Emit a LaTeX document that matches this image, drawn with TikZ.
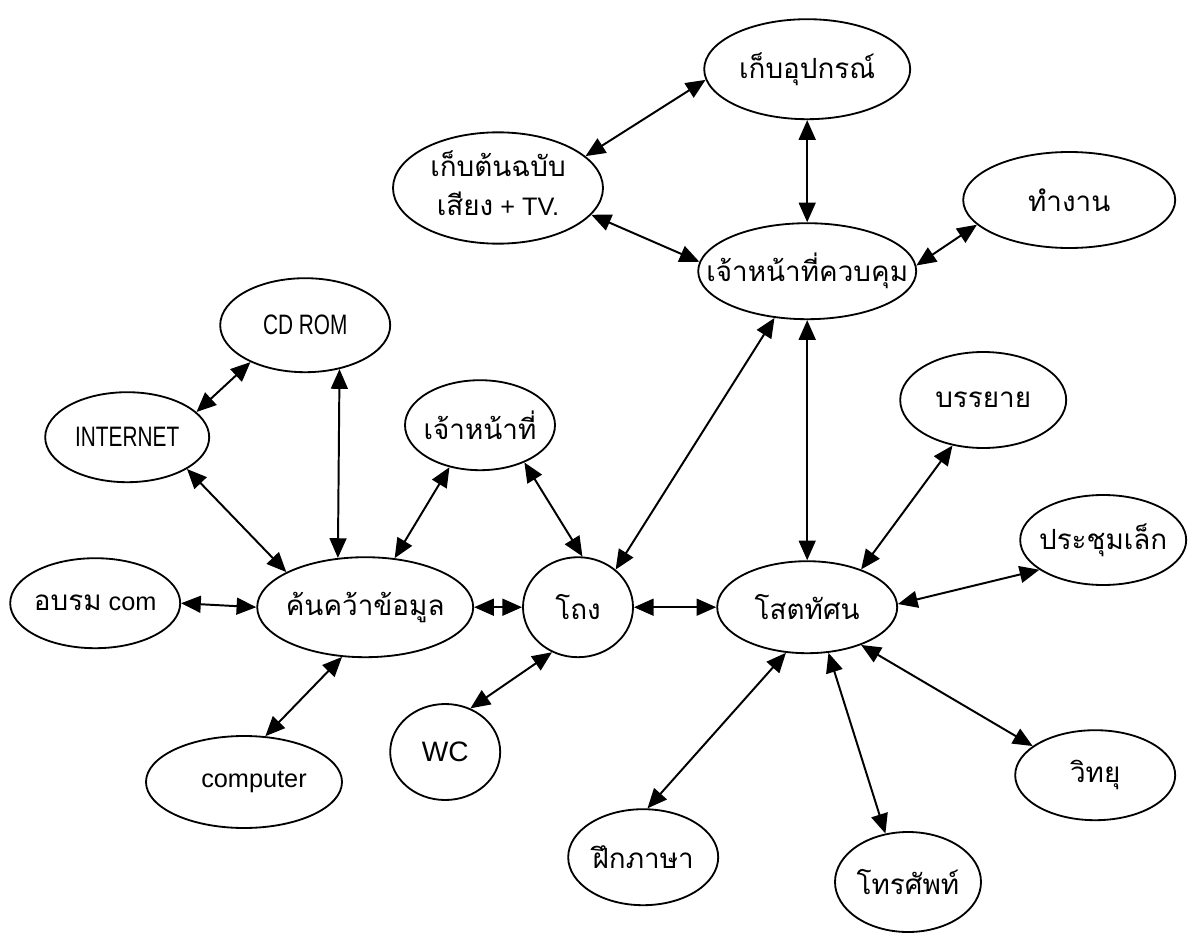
\documentclass[tikz,border=0pt]{standalone}
\usepackage{fontspec}
\setmainfont{Liberation Sans}
\newfontfamily\narrow[FakeStretch=0.74]{Liberation Sans}
\newfontfamily\thai[Script=Thai,Scale=1.1]{Loma}
\usetikzlibrary{shapes.geometric,arrows.meta,positioning}

\newcommand{\nm}[1]{\makebox[0pt]{#1}}
\newcommand{\bigtxt}{\fontsize{20}{28}\selectfont}

\tikzset{
	spot/.style 2 args={ellipse, draw, line width=1.3pt, inner sep=0pt,
		minimum width=#1, minimum height=#2,
		font=\fontsize{18}{28}\selectfont},
	link/.style={<->, line width=1.4pt},
}

\begin{document}
\begin{tikzpicture}[>={Triangle[length=14pt,width=12pt]}, on grid]
	\useasboundingbox (0,0) rectangle (29.75,-23.35);
	\node [spot={2.75cm}{2.5cm}] (thong) at (14.45,-15.18) {\nm{\thai โถง}};
	\node [spot={4.5cm}{2.3cm}, right=5.73cm of thong] (sot) {\nm{\thai โสตทัศน}};
	\node [spot={5.45cm}{2.4cm}, above=8.4cm of sot] (jkk) {\nm{\thai เจ้าหน้าที่ควบคุม}};
	\node [spot={5.15cm}{2.5cm}, above=5.05cm of jkk] (kepU) {\nm{\thai เก็บอุปกรณ์}};
	\node [spot={5.25cm}{2.75cm}] (kepT) at (12.45,-4.70)
		{\nm{\begin{tabular}{@{}c@{}}\thai เก็บต้นฉบับ\\{\thai เสียง} + TV.\end{tabular}}};
	\node [spot={5.3cm}{2.4cm}] (tam) at (26.73,-5.00) {\nm{\thai ทำงาน}};
	\node [spot={4.25cm}{2.35cm}] (cd) at (7.63,-8.13) {\nm{\bigtxt\narrow CD ROM}};
	\node [spot={4.1cm}{2.25cm}] (inet) at (3.18,-10.93) {\nm{\bigtxt\narrow INTERNET}};
	\node [spot={3.75cm}{2.25cm}] (jnh) at (12.00,-10.63) {\nm{\thai เจ้าหน้าที่}};
	\node [spot={4.15cm}{2.4cm}] (ban) at (24.58,-10.00) {\nm{\thai บรรยาย}};
	\node [spot={4.15cm}{2.25cm}] (pra) at (27.58,-13.50) {\nm{\thai ประชุมเล็ก}};
	\node [spot={4.25cm}{2.25cm}] (obr) at (2.38,-15.08) {\nm{{\thai อบรม} com}};
	\node [spot={5.4cm}{2.5cm}] (khk) at (9.13,-15.18) {\nm{\thai ค้นคว้าข้อมูล}};
	\node [spot={2.75cm}{2.4cm}] (wc) at (11.13,-18.80) {\nm{\bigtxt WC}};
	\node [spot={4.9cm}{2.3cm}] (comp) at (6.10,-19.55) {\nm{\hspace{0.5cm}computer}};
	\node [spot={4.0cm}{2.25cm}] (wit) at (27.38,-19.38) {\nm{\thai วิทยุ}};
	\node [spot={3.75cm}{2.4cm}] (fuek) at (16.08,-21.43) {\nm{\thai ฝึกภาษา}};
	\node [spot={3.65cm}{2.5cm}] (tho) at (22.70,-22.05) {\nm{\thai โทรศัพท์}};

	\draw [link] (kepT.20) -- (kepU.186);
	\draw [link] (kepU.south) -- (jkk.north);
	\draw [link] (kepT.-16) -- (jkk.175);
	\draw [link] (tam.195) -- (jkk.3);
	\draw [link] (jkk.-125) -- (thong.45);
	\draw [link] (jkk.south) -- (sot.north);
	\draw [link] (cd.-146) -- (inet.20);
	\draw [link] (cd.-52) -- (khk.119);
	\draw [link] (inet.-28) -- (khk.156);
	\draw [link] (jnh.-126) -- (khk.59);
	\draw [link] (jnh.-40) -- (thong.85);
	\draw [link] (ban.-124) -- (sot.35);
	\draw [link] (pra.-155) -- (sot.2);
	\draw [link] (obr.east) -- (khk.west);
	\draw [link] (khk.east) -- (thong.west);
	\draw [link] (thong.east) -- (sot.west);
	\draw [link] (comp.65) -- (khk.-115);
	\draw [link] (wc.60) -- (thong.-120);
	\draw [link] (fuek.85) -- (sot.-115);
	\draw [link] (tho.115) -- (sot.-65);
	\draw [link] (wit.155) -- (sot.-35);
\end{tikzpicture}
\end{document}
